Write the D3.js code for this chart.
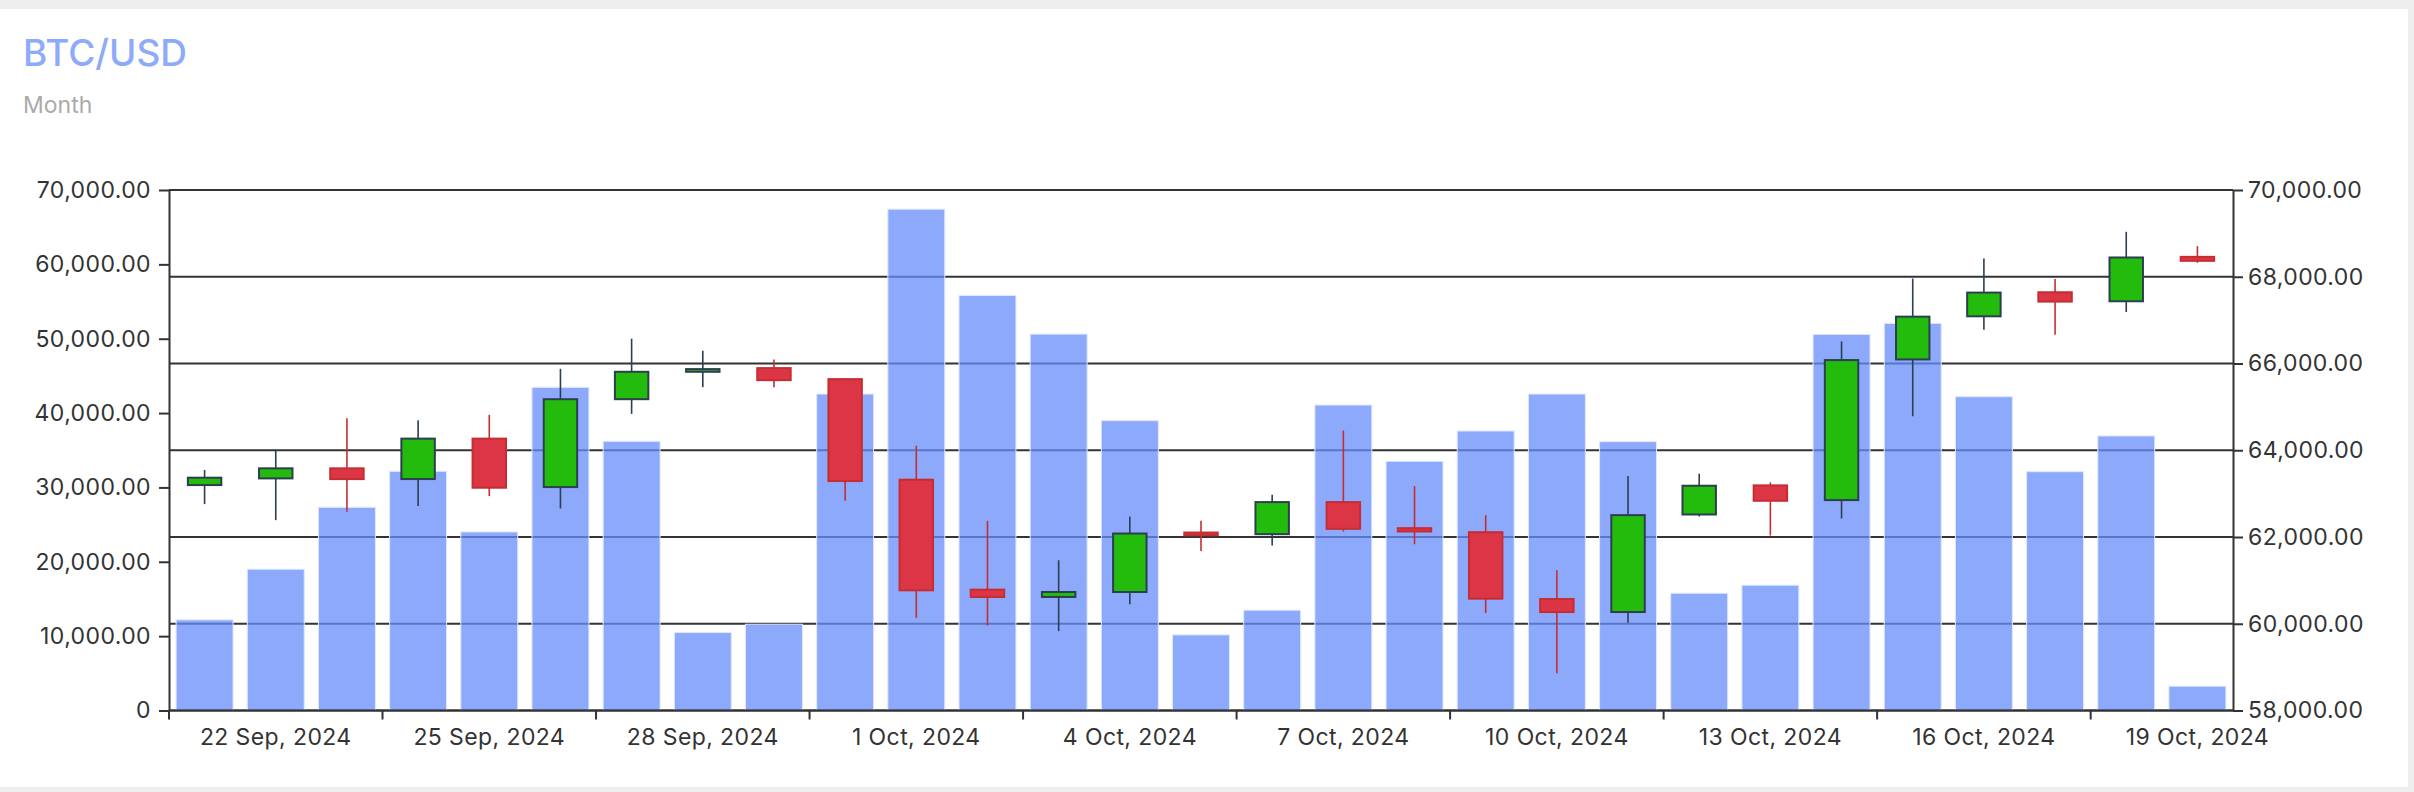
<!DOCTYPE html>
<html>
<head>
<meta charset="utf-8">
<script src="https://cdn.jsdelivr.net/npm/d3@7"></script>
<style>
  html, body { margin: 0; padding: 0; background: #eeeeee; }
  svg { display: block; }
  text { font-family: Inter, "Noto Sans", sans-serif; }
</style>
</head>
<body>
<svg id="chart" width="2414" height="792"></svg>
<script>
const dates = ["21 Sep, 2024","22 Sep, 2024","23 Sep, 2024","24 Sep, 2024","25 Sep, 2024","26 Sep, 2024","27 Sep, 2024","28 Sep, 2024","29 Sep, 2024","30 Sep, 2024",
  "1 Oct, 2024","2 Oct, 2024","3 Oct, 2024","4 Oct, 2024","5 Oct, 2024","6 Oct, 2024","7 Oct, 2024","8 Oct, 2024","9 Oct, 2024","10 Oct, 2024",
  "11 Oct, 2024","12 Oct, 2024","13 Oct, 2024","14 Oct, 2024","15 Oct, 2024","16 Oct, 2024","17 Oct, 2024","18 Oct, 2024","19 Oct, 2024"];
const openV  = [63197,63351,63583,63336,64268,63151,65177,65809,65894,65640,63321,60786,60617,60732,62103,62065,62805,62204,62111,60570,60270,62519,63190,62851,66094,67088,67643,67435,68459];
const highV  = [63544,64014,64738,64692,64815,65878,66572,66294,66094,65660,64106,62373,61464,62473,62373,62974,64453,63174,62504,61233,63405,63459,63259,66510,67958,68421,67951,69037,68706];
const lowV   = [62758,62388,62581,62712,62943,62658,64838,65455,65455,62835,60139,59962,59831,60447,61680,61803,62127,61834,60247,58860,60023,62473,62034,62427,64784,66780,66664,67188,68321];
const closeV = [63367,63583,63335,64268,63136,65177,65809,65871,65616,63290,60771,60617,60732,62080,62042,62805,62188,62127,60578,60270,62504,63182,62835,66079,67080,67635,67427,68444,68367];
const volumeV= [12190,19000,27330,32170,24010,43460,36200,10480,11600,42560,67420,55820,50620,38980,10170,13490,41080,33510,37590,42560,36150,15770,16850,50580,52060,42200,32120,36920,3270];
const volTicks = [0,10000,20000,30000,40000,50000,60000,70000];
const priceTicks = [58000,60000,62000,64000,66000,68000,70000];
const title = "BTC/USD";
const subtitle = "Month";

(function(){
const data = dates.map((d,i)=>({date:d, o:openV[i], h:highV[i], l:lowV[i], c:closeV[i], v:volumeV[i], i}));

const svg = d3.select("#chart");
const pL = 169, pR = 2233, pT = 190, pB = 710.5;

// card
svg.append("rect").attr("x",0).attr("y",9).attr("width",2408).attr("height",778).attr("fill","#ffffff");

svg.append("text").attr("x",23).attr("y",66).attr("font-size",37).attr("font-weight",500)
  .attr("fill","#8eaafb").text(title);
svg.append("text").attr("x",23).attr("y",113).attr("font-size",23)
  .attr("fill","#aaaaaa").text(subtitle);

const x = d3.scaleBand().domain(dates).range([pL,pR]).paddingInner(0.2).paddingOuter(0.1);
const yVol = d3.scaleLinear().domain([0,70000]).range([pB,pT]);
const yPrice = d3.scaleLinear().domain([58000,70000]).range([pB,pT]);
const step = x.step();
const bw = x.bandwidth();
const cx = d => x(d) + bw/2;

const axisColor = "#333333";

// gridlines from price axis
svg.append("g").selectAll("line").data(priceTicks).join("line")
  .attr("x1",pL).attr("x2",pR)
  .attr("y1",d=>yPrice(d)).attr("y2",d=>yPrice(d))
  .attr("stroke",axisColor).attr("stroke-width",2);

// volume bars
svg.append("g").selectAll("rect").data(data).join("rect")
  .attr("x",d=>x(d.date)).attr("width",bw)
  .attr("y",d=>yVol(d.v)).attr("height",d=>pB-yVol(d.v))
  .attr("fill","rgb(103,140,250)").attr("fill-opacity",0.75)
  .attr("stroke","#dfe6ff").attr("stroke-width",1);

// candles
const upFill = "#23bc0c", upStroke = "#2c3e50", dnFill = "#dc3545", dnStroke = "#c62d32";
const cg = svg.append("g").selectAll("g").data(data).join("g");
cg.append("line")
  .attr("x1",d=>cx(d.date)).attr("x2",d=>cx(d.date))
  .attr("y1",d=>yPrice(d.h)).attr("y2",d=>yPrice(d.l))
  .attr("stroke",d=>d.c>=d.o?upStroke:dnStroke).attr("stroke-width",1.6);
const bodyW = step*0.47;
cg.append("rect")
  .attr("x",d=>cx(d.date)-bodyW/2).attr("width",bodyW)
  .attr("y",d=>yPrice(Math.max(d.o,d.c)))
  .attr("height",d=>Math.max(1,Math.abs(yPrice(d.o)-yPrice(d.c))))
  .attr("fill",d=>d.c>=d.o?upFill:dnFill)
  .attr("stroke",d=>d.c>=d.o?upStroke:dnStroke).attr("stroke-width",2);

// axes
const fmt = d => d===0 ? "0" : d3.format(",.2f")(d);
const gl = svg.append("g").attr("transform",`translate(${pL},0)`)
  .call(d3.axisLeft(yVol).tickValues(volTicks).tickSize(10).tickSizeOuter(0).tickPadding(8).tickFormat(fmt));
const gr = svg.append("g").attr("transform",`translate(${pR},0)`)
  .call(d3.axisRight(yPrice).tickValues(priceTicks).tickSize(10).tickSizeOuter(0).tickPadding(5).tickFormat(fmt));
const gb = svg.append("g").attr("transform",`translate(0,${pB})`)
  .call(d3.axisBottom(x).tickValues(dates.filter((d,i)=>i%3===1)).tickSize(0).tickSizeOuter(0).tickPadding(18));
[gl,gr,gb].forEach(g=>{
  g.selectAll(".domain").attr("stroke",axisColor).attr("stroke-width",2);
  g.selectAll(".tick line").attr("stroke",axisColor).attr("stroke-width",2);
  g.selectAll("text").attr("fill","#333333").attr("font-size",23).attr("letter-spacing",0.4)
    .attr("font-family","Inter, 'Noto Sans', sans-serif");
});
gb.selectAll(".domain").attr("d",`M${pL},0H${pR}`);
const boundaries = d3.range(0,dates.length,3);
gb.append("g").selectAll("line").data(boundaries).join("line")
  .attr("x1",i=>x.range()[0]+i*step).attr("x2",i=>x.range()[0]+i*step)
  .attr("y1",0).attr("y2",9).attr("stroke",axisColor).attr("stroke-width",2);
})();
</script>
</body>
</html>
